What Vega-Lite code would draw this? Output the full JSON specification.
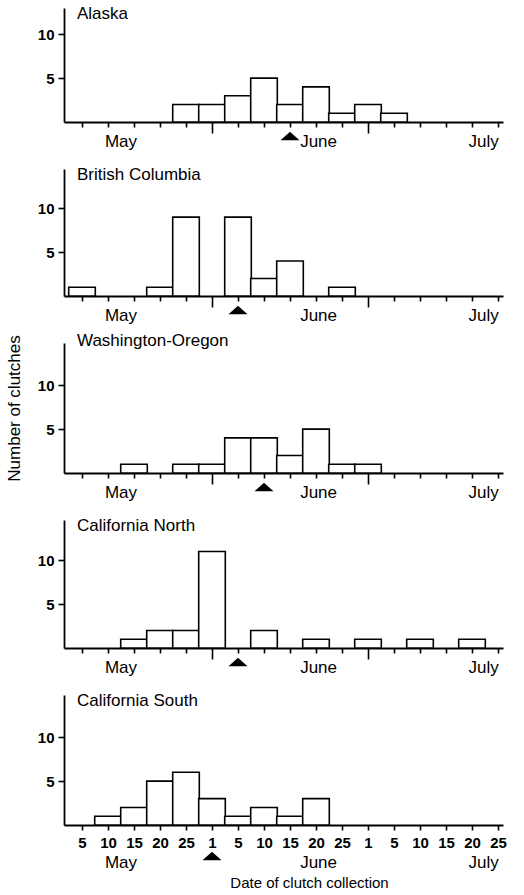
{
  "$schema": "https://vega.github.io/schema/vega-lite/v6.json",
  "background": "white",
  "padding": {"left": 5, "top": 5, "right": 10, "bottom": 2},
  "bounds": "flush",
  "spacing": 47,
  "config": {
    "view": {"stroke": null},
    "font": "Liberation Sans",
    "axis": {
      "grid": false,
      "domainColor": "black",
      "domainWidth": 1.8,
      "tickColor": "black",
      "tickWidth": 1.6,
      "labelColor": "black",
      "labelFont": "Liberation Sans",
      "labelFontWeight": "bold",
      "labelFontSize": 15,
      "titleColor": "black",
      "titleFont": "Liberation Sans",
      "titleFontWeight": "normal",
      "titleFontSize": 17
    },
    "title": {"font": "Liberation Sans", "fontSize": 17, "fontWeight": "normal", "color": "black"}
  },
  "datasets": {
    "bars": [
      {"region": "Alaska", "slot": 4, "count": 2},
      {"region": "Alaska", "slot": 5, "count": 2},
      {"region": "Alaska", "slot": 6, "count": 3},
      {"region": "Alaska", "slot": 7, "count": 5},
      {"region": "Alaska", "slot": 8, "count": 2},
      {"region": "Alaska", "slot": 9, "count": 4},
      {"region": "Alaska", "slot": 10, "count": 1},
      {"region": "Alaska", "slot": 11, "count": 2},
      {"region": "Alaska", "slot": 12, "count": 1},
      {"region": "British Columbia", "slot": 0, "count": 1},
      {"region": "British Columbia", "slot": 3, "count": 1},
      {"region": "British Columbia", "slot": 4, "count": 9},
      {"region": "British Columbia", "slot": 6, "count": 9},
      {"region": "British Columbia", "slot": 7, "count": 2},
      {"region": "British Columbia", "slot": 8, "count": 4},
      {"region": "British Columbia", "slot": 10, "count": 1},
      {"region": "Washington-Oregon", "slot": 2, "count": 1},
      {"region": "Washington-Oregon", "slot": 4, "count": 1},
      {"region": "Washington-Oregon", "slot": 5, "count": 1},
      {"region": "Washington-Oregon", "slot": 6, "count": 4},
      {"region": "Washington-Oregon", "slot": 7, "count": 4},
      {"region": "Washington-Oregon", "slot": 8, "count": 2},
      {"region": "Washington-Oregon", "slot": 9, "count": 5},
      {"region": "Washington-Oregon", "slot": 10, "count": 1},
      {"region": "Washington-Oregon", "slot": 11, "count": 1},
      {"region": "California North", "slot": 2, "count": 1},
      {"region": "California North", "slot": 3, "count": 2},
      {"region": "California North", "slot": 4, "count": 2},
      {"region": "California North", "slot": 5, "count": 11},
      {"region": "California North", "slot": 7, "count": 2},
      {"region": "California North", "slot": 9, "count": 1},
      {"region": "California North", "slot": 11, "count": 1},
      {"region": "California North", "slot": 13, "count": 1},
      {"region": "California North", "slot": 15, "count": 1},
      {"region": "California South", "slot": 1, "count": 1},
      {"region": "California South", "slot": 2, "count": 2},
      {"region": "California South", "slot": 3, "count": 5},
      {"region": "California South", "slot": 4, "count": 6},
      {"region": "California South", "slot": 5, "count": 3},
      {"region": "California South", "slot": 6, "count": 1},
      {"region": "California South", "slot": 7, "count": 2},
      {"region": "California South", "slot": 8, "count": 1},
      {"region": "California South", "slot": 9, "count": 3}
    ],
    "means": [
      {"region": "Alaska", "slot": 8},
      {"region": "British Columbia", "slot": 6},
      {"region": "Washington-Oregon", "slot": 7},
      {"region": "California North", "slot": 6},
      {"region": "California South", "slot": 5}
    ],
    "months": [
      {"month": "May", "slot": 1.5},
      {"month": "June", "slot": 9.1},
      {"month": "July", "slot": 15.45}
    ]
  },
  "vconcat": [
    {
      "title": {"text": "Alaska", "anchor": "start", "frame": "group", "offset": -15, "dx": 13},
      "width": 439, "height": 114,
      "encoding": {
        "x": {"field": "slot", "type": "quantitative", "scale": {"domain": [-0.5, 16], "nice": false, "zero": false},
              "axis": {"values": [0,1,2,3,4,5,6,7,8,9,10,11,12,13,14,15,16], "labels": false, "title": null,
                       "tickSize": {"condition": {"test": "datum.value == 5 || datum.value == 11", "value": 11}, "value": 5}}}
      },
      "layer": [
        {
          "data": {"name": "bars"},
          "transform": [{"filter": "datum.region == 'Alaska'"}],
          "mark": {"type": "bar", "width": 26.6, "fill": "white", "stroke": "black", "strokeWidth": 1.6},
          "encoding": {
            "y": {"field": "count", "type": "quantitative", "scale": {"domain": [0, 13], "nice": false},
                  "axis": {"values": [5, 10], "title": null, "tickSize": 6, "labelPadding": 4}}
          }
        },
        {
          "data": {"name": "means"},
          "transform": [{"filter": "datum.region == 'Alaska'"}],
          "mark": {"type": "point", "shape": "M-1,0.45L1,0.45L0,-0.45Z", "filled": true, "fill": "black", "stroke": null, "size": 361, "opacity": 1, "yOffset": 14},
          "encoding": {"y": {"datum": 0}}
        },
        {
          "data": {"name": "months"},
          "mark": {"type": "text", "fontSize": 17, "baseline": "middle", "align": "center", "yOffset": 20, "color": "black"},
          "encoding": {"y": {"datum": 0}, "text": {"field": "month"}}
        }
      ]
    },
    {
      "title": {"text": "British Columbia", "anchor": "start", "frame": "group", "offset": -15, "dx": 13},
      "width": 439, "height": 127,
      "encoding": {
        "x": {"field": "slot", "type": "quantitative", "scale": {"domain": [-0.5, 16], "nice": false, "zero": false},
              "axis": {"values": [0,1,2,3,4,5,6,7,8,9,10,11,12,13,14,15,16], "labels": false, "title": null,
                       "tickSize": {"condition": {"test": "datum.value == 5 || datum.value == 11", "value": 11}, "value": 5}}}
      },
      "layer": [
        {
          "data": {"name": "bars"},
          "transform": [{"filter": "datum.region == 'British Columbia'"}],
          "mark": {"type": "bar", "width": 26.6, "fill": "white", "stroke": "black", "strokeWidth": 1.6},
          "encoding": {
            "y": {"field": "count", "type": "quantitative", "scale": {"domain": [0, 14.5], "nice": false},
                  "axis": {"values": [5, 10], "title": null, "tickSize": 6, "labelPadding": 4}}
          }
        },
        {
          "data": {"name": "means"},
          "transform": [{"filter": "datum.region == 'British Columbia'"}],
          "mark": {"type": "point", "shape": "M-1,0.45L1,0.45L0,-0.45Z", "filled": true, "fill": "black", "stroke": null, "size": 361, "opacity": 1, "yOffset": 14},
          "encoding": {"y": {"datum": 0}}
        },
        {
          "data": {"name": "months"},
          "mark": {"type": "text", "fontSize": 17, "baseline": "middle", "align": "center", "yOffset": 20, "color": "black"},
          "encoding": {"y": {"datum": 0}, "text": {"field": "month"}}
        }
      ]
    },
    {
      "title": {"text": "Washington-Oregon", "anchor": "start", "frame": "group", "offset": -15, "dx": 13},
      "width": 439, "height": 130,
      "encoding": {
        "x": {"field": "slot", "type": "quantitative", "scale": {"domain": [-0.5, 16], "nice": false, "zero": false},
              "axis": {"values": [0,1,2,3,4,5,6,7,8,9,10,11,12,13,14,15,16], "labels": false, "title": null,
                       "tickSize": {"condition": {"test": "datum.value == 5 || datum.value == 11", "value": 11}, "value": 5}}}
      },
      "layer": [
        {
          "data": {"name": "bars"},
          "transform": [{"filter": "datum.region == 'Washington-Oregon'"}],
          "mark": {"type": "bar", "width": 26.6, "fill": "white", "stroke": "black", "strokeWidth": 1.6},
          "encoding": {
            "y": {"field": "count", "type": "quantitative", "scale": {"domain": [0, 14.8], "nice": false},
                  "axis": {"values": [5, 10], "title": "Number of clutches", "tickSize": 6, "labelPadding": 4, "titlePadding": 14}}
          }
        },
        {
          "data": {"name": "means"},
          "transform": [{"filter": "datum.region == 'Washington-Oregon'"}],
          "mark": {"type": "point", "shape": "M-1,0.45L1,0.45L0,-0.45Z", "filled": true, "fill": "black", "stroke": null, "size": 361, "opacity": 1, "yOffset": 14},
          "encoding": {"y": {"datum": 0}}
        },
        {
          "data": {"name": "months"},
          "mark": {"type": "text", "fontSize": 17, "baseline": "middle", "align": "center", "yOffset": 20, "color": "black"},
          "encoding": {"y": {"datum": 0}, "text": {"field": "month"}}
        }
      ]
    },
    {
      "title": {"text": "California North", "anchor": "start", "frame": "group", "offset": -15, "dx": 13},
      "width": 439, "height": 128,
      "encoding": {
        "x": {"field": "slot", "type": "quantitative", "scale": {"domain": [-0.5, 16], "nice": false, "zero": false},
              "axis": {"values": [0,1,2,3,4,5,6,7,8,9,10,11,12,13,14,15,16], "labels": false, "title": null,
                       "tickSize": {"condition": {"test": "datum.value == 5 || datum.value == 11", "value": 11}, "value": 5}}}
      },
      "layer": [
        {
          "data": {"name": "bars"},
          "transform": [{"filter": "datum.region == 'California North'"}],
          "mark": {"type": "bar", "width": 26.6, "fill": "white", "stroke": "black", "strokeWidth": 1.6},
          "encoding": {
            "y": {"field": "count", "type": "quantitative", "scale": {"domain": [0, 14.6], "nice": false},
                  "axis": {"values": [5, 10], "title": null, "tickSize": 6, "labelPadding": 4}}
          }
        },
        {
          "data": {"name": "means"},
          "transform": [{"filter": "datum.region == 'California North'"}],
          "mark": {"type": "point", "shape": "M-1,0.45L1,0.45L0,-0.45Z", "filled": true, "fill": "black", "stroke": null, "size": 361, "opacity": 1, "yOffset": 14},
          "encoding": {"y": {"datum": 0}}
        },
        {
          "data": {"name": "months"},
          "mark": {"type": "text", "fontSize": 17, "baseline": "middle", "align": "center", "yOffset": 20, "color": "black"},
          "encoding": {"y": {"datum": 0}, "text": {"field": "month"}}
        }
      ]
    },
    {
      "title": {"text": "California South", "anchor": "start", "frame": "group", "offset": -15, "dx": 13},
      "width": 439, "height": 130,
      "encoding": {
        "x": {"field": "slot", "type": "quantitative", "scale": {"domain": [-0.5, 16], "nice": false, "zero": false},
              "axis": {"values": [0,1,2,3,4,5,6,7,8,9,10,11,12,13,14,15,16], "title": "Date of clutch collection",
                       "labelExpr": "['5','10','15','20','25','1','5','10','15','20','25','1','5','10','15','20','25'][datum.value]",
                       "tickSize": 5, "labelPadding": 5, "labelFlush": false, "labelOverlap": false, "labelBound": false,
                       "titlePadding": 25, "titleFontSize": 15, "titleX": 245}}
      },
      "layer": [
        {
          "data": {"name": "bars"},
          "transform": [{"filter": "datum.region == 'California South'"}],
          "mark": {"type": "bar", "width": 26.6, "fill": "white", "stroke": "black", "strokeWidth": 1.6},
          "encoding": {
            "y": {"field": "count", "type": "quantitative", "scale": {"domain": [0, 14.8], "nice": false},
                  "axis": {"values": [5, 10], "title": null, "tickSize": 6, "labelPadding": 4}}
          }
        },
        {
          "data": {"name": "means"},
          "transform": [{"filter": "datum.region == 'California South'"}],
          "mark": {"type": "point", "shape": "M-1,0.45L1,0.45L0,-0.45Z", "filled": true, "fill": "black", "stroke": null, "size": 361, "opacity": 1, "yOffset": 31},
          "encoding": {"y": {"datum": 0}}
        },
        {
          "data": {"name": "months"},
          "mark": {"type": "text", "fontSize": 17, "baseline": "middle", "align": "center", "yOffset": 38, "color": "black"},
          "encoding": {"y": {"datum": 0}, "text": {"field": "month"}}
        }
      ]
    }
  ]
}
